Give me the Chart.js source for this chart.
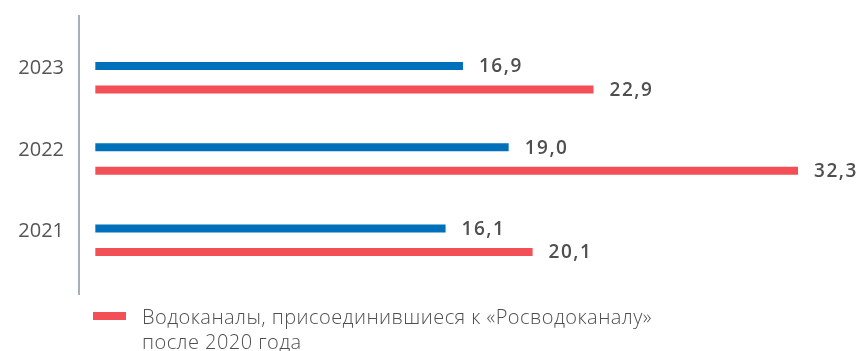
<!DOCTYPE html>
<html>
<head>
<meta charset="utf-8">
<script src="https://cdn.jsdelivr.net/npm/chart.js@4"></script>
<style>
  html, body { margin: 0; padding: 0; background: #ffffff; }
  canvas { display: block; }
</style>
</head>
<body>
<canvas id="chart" width="862" height="351"></canvas>
<script>
// Categories and series
const years = ['2023', '2022', '2021'];
const groupTotal = [16.9, 19.0, 16.1];
const joinedAfter2020 = [22.9, 32.3, 20.1];
const joinedLabel = ['Водоканалы, присоединившиеся к «Росводоканалу»', 'после 2020 года'];

const BLUE = '#0070ba';
const RED = '#f24f57';
const TEXT = '#4f4f4f';
const FONT = '"Open Sans", "Noto Sans", sans-serif';

const fmt = v => v.toFixed(1).replace('.', ',');

// Vertical axis line that runs past the plotted band
const axisLine = {
  id: 'axisLine',
  beforeDatasetsDraw(chart) {
    const { ctx, chartArea } = chart;
    ctx.save();
    ctx.strokeStyle = '#8397a6';
    ctx.lineWidth = 1.5;
    ctx.beginPath();
    ctx.moveTo(chartArea.left, chartArea.top - 22);
    ctx.lineTo(chartArea.left, chartArea.bottom + 14);
    ctx.stroke();
    ctx.restore();
  }
};

// Value labels at the end of each bar
const valueLabels = {
  id: 'valueLabels',
  afterDatasetsDraw(chart) {
    const { ctx } = chart;
    ctx.save();
    ctx.font = '600 19px ' + FONT;
    ctx.letterSpacing = '1.5px';
    ctx.fillStyle = TEXT;
    ctx.textAlign = 'left';
    ctx.textBaseline = 'middle';
    chart.data.datasets.forEach((ds, i) => {
      chart.getDatasetMeta(i).data.forEach((bar, j) => {
        ctx.fillText(fmt(ds.data[j]), bar.x + 16, bar.y + 1);
      });
    });
    ctx.restore();
  }
};

// Legend for the second series, wrapped over two lines
const bottomLegend = {
  id: 'bottomLegend',
  afterDraw(chart) {
    const { ctx, chartArea } = chart;
    const ds = chart.data.datasets[1];
    const top = chartArea.bottom + 31;
    ctx.save();
    ctx.fillStyle = ds.backgroundColor;
    ctx.fillRect(93, top, 33, 8);
    ctx.font = '300 20px ' + FONT;
    ctx.letterSpacing = '0.45px';
    ctx.fillStyle = TEXT;
    ctx.textAlign = 'left';
    ctx.textBaseline = 'alphabetic';
    ds.label.forEach((line, k) => {
      ctx.fillText(line, 142, top + 12 + k * 25);
    });
    ctx.restore();
  }
};

new Chart(document.getElementById('chart'), {
  type: 'bar',
  data: {
    labels: years,
    datasets: [
      { label: '', data: groupTotal, backgroundColor: BLUE },
      { label: joinedLabel, data: joinedAfter2020, backgroundColor: RED }
    ]
  },
  options: {
    indexAxis: 'y',
    responsive: false,
    devicePixelRatio: 1,
    animation: false,
    categoryPercentage: 0.578,
    barPercentage: 0.34,
    layout: { padding: { top: 37, bottom: 70, left: 0, right: 27 } },
    plugins: {
      legend: { display: false },
      tooltip: { enabled: false }
    },
    scales: {
      x: { display: false, min: -0.75, max: 34 },
      y: {
        grid: { display: false, drawTicks: false },
        border: { display: false },
        ticks: {
          color: '#555555',
          font: { family: FONT, size: 20 },
          padding: 15,
          labelOffset: -9
        },
        afterFit(scale) { scale.width = 79; }
      }
    }
  },
  plugins: [axisLine, valueLabels, bottomLegend]
});
</script>
</body>
</html>
